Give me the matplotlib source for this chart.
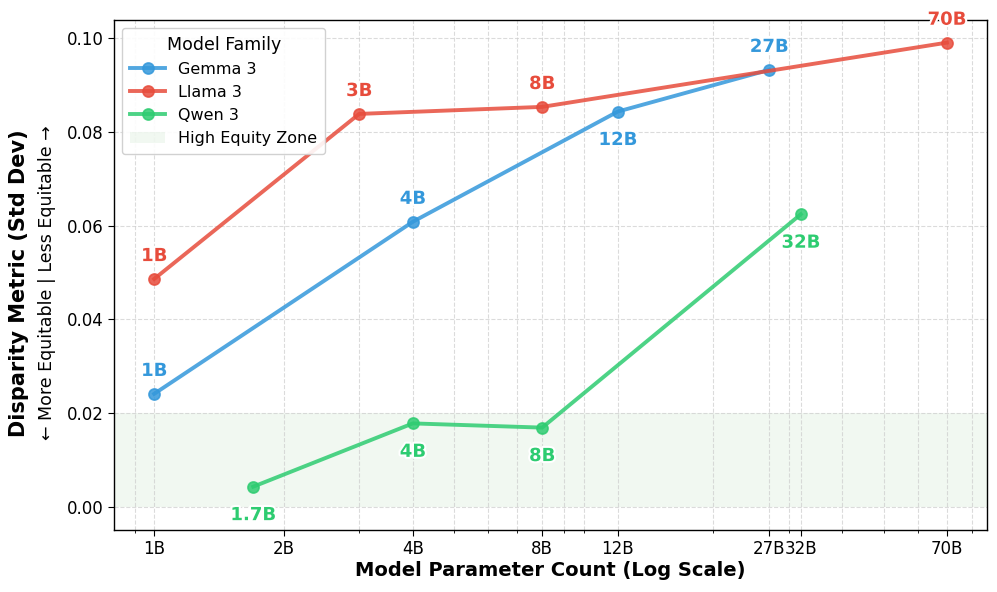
import matplotlib
matplotlib.use("Agg")
import matplotlib.pyplot as plt
import matplotlib.patheffects as pe
from matplotlib.ticker import FixedLocator, LogLocator, NullFormatter

gemma_x = [1, 4, 12, 27]
gemma_y = [0.0241, 0.0608, 0.0843, 0.0932]
llama_x = [1, 3, 8, 70]
llama_y = [0.0486, 0.0838, 0.0853, 0.0990]
qwen_x = [1.7, 4, 8, 32]
qwen_y = [0.0043, 0.0178, 0.0169, 0.0624]

gemma_lbl = ["1B", "4B", "12B", "27B"]
llama_lbl = ["1B", "3B", "8B", "70B"]
qwen_lbl = ["1.7B", "4B", "8B", "32B"]

gemma_pos = ["above", "above", "below", "above"]
llama_pos = ["above", "above", "above", "above"]
qwen_pos = ["below", "below", "below", "below"]

tick_vals = [1, 2, 4, 8, 12, 27, 32, 70]
tick_lbls = ["1B", "2B", "4B", "8B", "12B", "27B", "32B", "70B"]

C_G = "#3498db"
C_L = "#e74c3c"
C_Q = "#2ecc71"

fig, ax = plt.subplots(figsize=(9.97, 5.92), dpi=100)
fig.subplots_adjust(left=0.1145, right=0.99, top=0.966, bottom=0.105)

zone = ax.axhspan(0, 0.02, color="green", alpha=0.055, lw=0, label="High Equity Zone", zorder=0)

handles = []
for xs, ys, lbls, pos, c, name in [
    (gemma_x, gemma_y, gemma_lbl, gemma_pos, C_G, "Gemma 3"),
    (llama_x, llama_y, llama_lbl, llama_pos, C_L, "Llama 3"),
    (qwen_x, qwen_y, qwen_lbl, qwen_pos, C_Q, "Qwen 3"),
]:
    h, = ax.plot(xs, ys, "-o", color=c, lw=2.8, ms=8, alpha=0.85,
                 markeredgecolor=c, markeredgewidth=1.2, label=name, zorder=3)
    handles.append(h)
    for x, y, t, p in zip(xs, ys, lbls, pos):
        off = (0, 10) if p == "above" else (0, -14)
        va = "bottom" if p == "above" else "top"
        ax.annotate(t, (x, y), xytext=off, textcoords="offset points",
                    ha="center", va=va, fontsize=13, fontweight="bold", color=c,
                    path_effects=[pe.withStroke(linewidth=3, foreground="white")],
                    zorder=5)
handles.append(zone)

ax.set_xscale("log")
ax.set_xlim(0.807, 86.8)
ax.set_ylim(-0.0049, 0.1038)
ax.xaxis.set_major_locator(FixedLocator(tick_vals))
ax.set_xticklabels(tick_lbls)
ax.xaxis.set_minor_locator(LogLocator(base=10, subs=range(1, 10)))
ax.xaxis.set_minor_formatter(NullFormatter())
ax.set_yticks([0.0, 0.02, 0.04, 0.06, 0.08, 0.10])
ax.tick_params(axis="both", which="major", labelsize=12, length=4)
ax.tick_params(axis="x", which="minor", length=2.5)

ax.grid(True, which="major", axis="both", ls="--", color="#cccccc", alpha=0.7, lw=0.8)
ax.grid(True, which="minor", axis="x", ls="--", color="#cccccc", alpha=0.7, lw=0.8)
ax.set_axisbelow(True)

ax.set_xlabel("Model Parameter Count (Log Scale)", fontsize=14, fontweight="bold", labelpad=2)
ax.text(-0.109, 0.484, "Disparity Metric (Std Dev)", transform=ax.transAxes,
        rotation=90, ha="center", va="center", fontsize=15, fontweight="bold")
ax.text(-0.0774, 0.484, "← More Equitable | Less Equitable →", transform=ax.transAxes,
        rotation=90, ha="center", va="center", fontsize=12.5)

for s in ax.spines.values():
    s.set_color("black")
    s.set_linewidth(1.0)

leg = ax.legend(handles=handles, loc="upper left", title="Model Family", fontsize=11.5,
                title_fontsize=12.5, framealpha=0.9, borderpad=0.5, handlelength=2.2)

fig.savefig("out.png", dpi=100)
